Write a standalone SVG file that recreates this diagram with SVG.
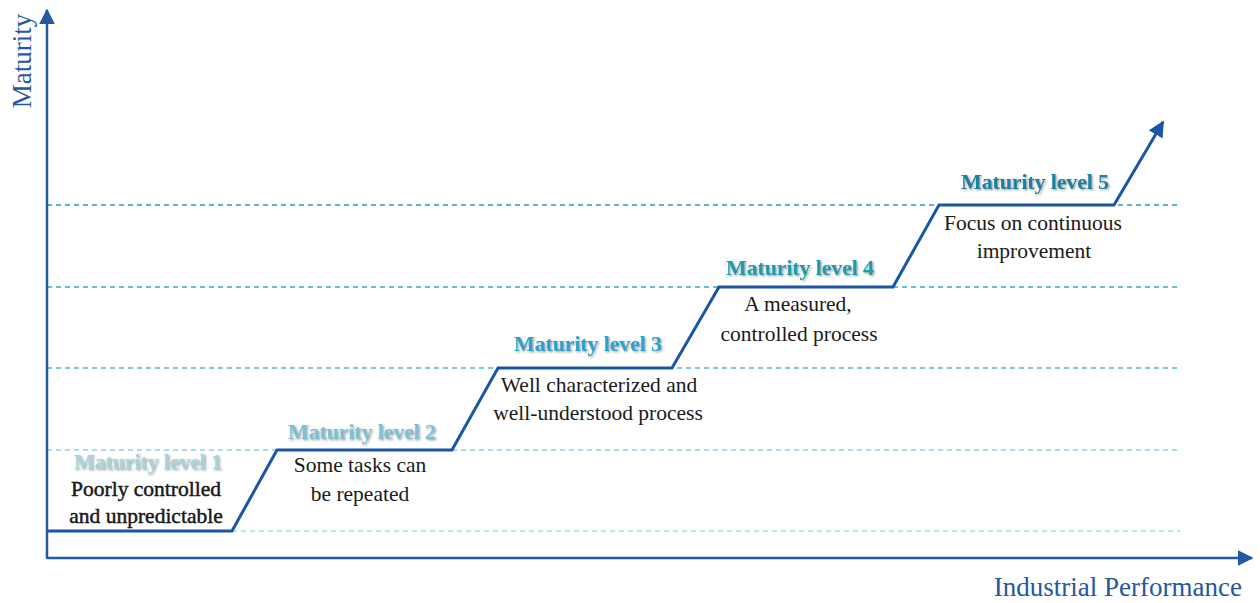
<svg xmlns="http://www.w3.org/2000/svg" width="1260" height="603" viewBox="0 0 1260 603">
<defs>
<style>
.ax{stroke:#2458a0;stroke-width:2.5;fill:none}
.step{stroke:#1a56a4;stroke-width:3;fill:none;stroke-linejoin:miter}
.dash{stroke-width:1.3;stroke-dasharray:5 4;fill:none}
.lvl{font-family:"Liberation Serif",serif;font-weight:bold;font-size:22px;text-anchor:middle;letter-spacing:-0.15px}
.desc{font-family:"Liberation Serif",serif;font-size:21.5px;fill:#1a1a1a;text-anchor:middle}
.axl{font-family:"Liberation Serif",serif;font-size:27px;fill:#2458a0}
</style>
<marker id="ah" viewBox="0 0 10 10" refX="9" refY="5" markerWidth="16" markerHeight="16" orient="auto" markerUnits="userSpaceOnUse">
<path d="M0,0 L10,5 L0,10 z" fill="#2458a0"/>
</marker>
<marker id="ah2" viewBox="0 0 10 10" refX="9" refY="5" markerWidth="16" markerHeight="16" orient="auto" markerUnits="userSpaceOnUse">
<path d="M0,0 L10,5 L0,10 z" fill="#1a56a4"/>
</marker>
<filter id="sh" x="-10%" y="-30%" width="120%" height="160%">
<feDropShadow dx="1.2" dy="1.2" stdDeviation="0.9" flood-color="#555" flood-opacity="0.6"/>
</filter>
</defs>
<rect width="1260" height="603" fill="#ffffff"/>
<g id="grid">
<line class="dash" x1="232" y1="531" x2="1180" y2="531" stroke="#a6dbe8"/>
<line class="dash" x1="47" y1="450" x2="1180" y2="450" stroke="#8fd1e4"/>
<line class="dash" x1="47" y1="368" x2="1180" y2="368" stroke="#4fb6d6"/>
<line class="dash" x1="47" y1="287" x2="1180" y2="287" stroke="#3aaac8"/>
<line class="dash" x1="47" y1="205" x2="1180" y2="205" stroke="#2a9cbc"/>
</g>
<g id="axes">
<line class="ax" x1="47" y1="559" x2="47" y2="10" marker-end="url(#ah)"/>
<path d="M47,558 L1252,558" class="ax" marker-end="url(#ah)"/>
<text class="axl" transform="translate(31,61) rotate(-90)" text-anchor="middle">Maturity</text>
<text class="axl" x="1242" y="596" text-anchor="end">Industrial Performance</text>
</g>
<g id="connectors">
<path class="step" d="M47,531 L232,531 L277,450 L452,450 L498,368 L672,368 L719,287 L893,287 L939,205 L1114,205 L1163,122" marker-end="url(#ah2)"/>
</g>
<g id="level1">
<text class="lvl" x="148" y="469" fill="#a9d2da" filter="url(#sh)">Maturity level 1</text>
<text class="desc" x="146" y="496" style="stroke:#111;stroke-width:0.45">Poorly controlled</text>
<text class="desc" x="146" y="523" style="stroke:#111;stroke-width:0.45">and unpredictable</text>
</g>
<g id="level2">
<text class="lvl" x="362" y="439" fill="#7cc0d6" filter="url(#sh)">Maturity level 2</text>
<text class="desc" x="360" y="472">Some tasks can</text>
<text class="desc" x="360" y="501">be repeated</text>
</g>
<g id="level3">
<text class="lvl" x="588" y="351" fill="#2aa2d0" filter="url(#sh)">Maturity level 3</text>
<text class="desc" x="599" y="392">Well characterized and</text>
<text class="desc" x="598" y="420">well-understood process</text>
</g>
<g id="level4">
<text class="lvl" x="800" y="275" fill="#1a9cac" filter="url(#sh)">Maturity level 4</text>
<text class="desc" x="798" y="311">A measured,</text>
<text class="desc" x="799" y="341">controlled process</text>
</g>
<g id="level5">
<text class="lvl" x="1035" y="189" fill="#1a80a0" filter="url(#sh)">Maturity level 5</text>
<text class="desc" x="1033" y="230">Focus on continuous</text>
<text class="desc" x="1034" y="258">improvement</text>
</g>
</svg>
